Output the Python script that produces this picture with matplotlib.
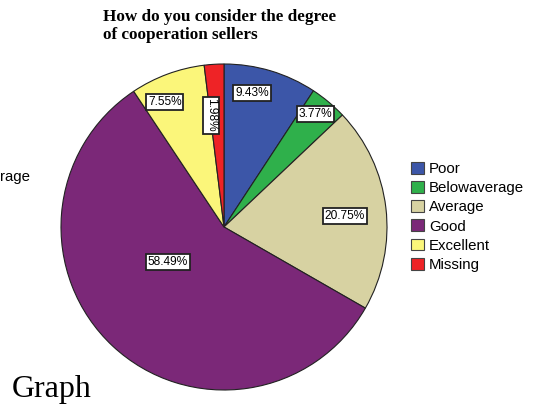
import numpy as np
import matplotlib.pyplot as plt
from matplotlib.patches import Patch

# cooperation ratings of sellers (percent of respondents)
categories = ['Poor', 'Belowaverage', 'Average', 'Good', 'Excellent', 'Missing']
percents = [9.43, 3.77, 20.75, 58.49, 7.55, 1.98]
colors = ['#3c56a8', '#2fb04b', '#d7d2a2', '#7b2878', '#fbf67a', '#ee2326']

# where each percent box sits: fraction of radius, angle clockwise from top
label_r = [0.84, 0.89, 0.745, 0.405, 0.85, 0.69]
label_ang = [11.8, 39, 84.8, 238, 334.7, 353.4]

W, H = 535, 405
fig = plt.figure(figsize=(W / 100, H / 100), dpi=100)
ax = fig.add_axes([0, 0, 1, 1])

cx, cy, R = 224, H - 227, 163
ax.pie(percents, colors=colors, startangle=90, counterclock=False,
       center=(cx, cy), radius=R,
       wedgeprops=dict(edgecolor='#222222', linewidth=0.8))
ax.set_xlim(0, W)
ax.set_ylim(0, H)
ax.set_aspect('equal')
ax.axis('off')

for i, p in enumerate(percents):
    a = np.deg2rad(label_ang[i])
    x = cx + label_r[i] * R * np.sin(a)
    y = cy + label_r[i] * R * np.cos(a)
    rot = 270 if categories[i] == 'Missing' else 0
    ax.text(x, y, f'{p:.2f}%', ha='center', va='center', rotation=rot,
            family='Liberation Sans', fontsize=8.6,
            bbox=dict(boxstyle='square,pad=0.15', fc='white', ec='#222222', lw=1.3))

handles = [Patch(facecolor=c, edgecolor='#444444', linewidth=0.8) for c in colors]
leg = ax.legend(handles, categories, loc='upper left',
                bbox_to_anchor=(411 / W, 1 - 162 / H), frameon=False,
                prop=dict(family='Liberation Sans', size=10.8),
                handlelength=0.85, handleheight=0.85, handletextpad=0.35,
                labelspacing=0.33, borderpad=0, borderaxespad=0)

# left-over fragment of a legend label
ax.text(0, H - 177, 'rage', ha='left', va='center',
        family='Liberation Sans', fontsize=10.8)

fig.text(103 / W, 1 - 9 / H, 'How do you consider the degree\nof cooperation sellers',
         ha='left', va='top', family='Liberation Serif', fontweight='bold',
         fontsize=12.3, linespacing=1.2)

fig.text(12 / W, 1 - 397 / H, 'Graph', ha='left', va='baseline',
         family='Liberation Serif', fontsize=23)

fig.savefig('out.png', dpi=100)
